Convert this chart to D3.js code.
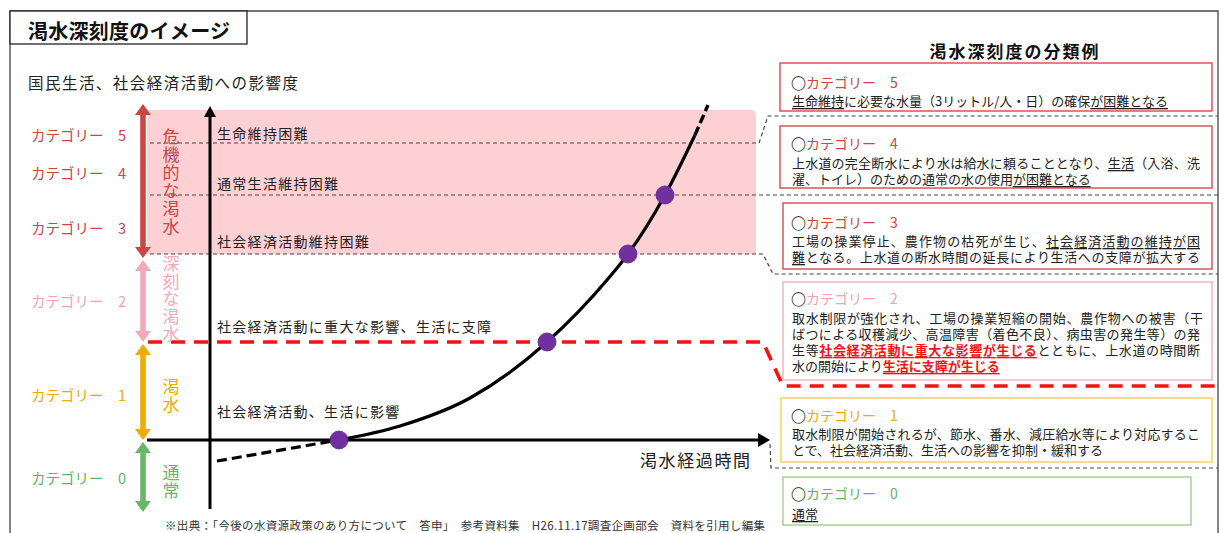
<!DOCTYPE html>
<html><head><meta charset="utf-8">
<script src="https://cdn.jsdelivr.net/npm/d3@7"></script>
<style>
body{margin:0;background:#fff}
text{font-family:"Noto Sans CJK JP","Noto Sans CJK SC",sans-serif}
</style>
</head><body>
<svg id="c" width="1223" height="533"></svg>
<script>
// ---------------- data ----------------
const chartTitle = "渇水深刻度のイメージ";
const yAxisTitle = "国民生活、社会経済活動への影響度";
const xAxisTitle = "渇水経過時間";
const panelTitle = "渇水深刻度の分類例";
const sourceNote = "※出典：「今後の水資源政策のあり方について　答申」　参考資料集　H26.11.17調査企画部会　資料を引用し編集";

const catIds = [5, 4, 3, 2, 1, 0];
const catLabelLevels = [306, 268, 213, 140, 46, -37];

const bandNames = ["危機的な渇水", "深刻な渇水", "渇水", "通常"];
const bandTop = [336, 180, 96, -2];
const bandBottom = [182, 98, 0, -72];
const bandTextCenter = [258, 141, 44, -42];

const thresholdLevels = [297, 245, 186];
const criticalLevel = 98;
const shadedTop = 330, shadedBottom = 186;

const impactLabels = ["生命維持困難", "通常生活維持困難", "社会経済活動維持困難", "社会経済活動に重大な影響、生活に支障", "社会経済活動、生活に影響"];
const impactLabelLevels = [307, 257, 199, 114, 29];

const leadPoints = [[7, -21], [129, 0]];
const mainPoints = [[129, 0], [190, 14], [260, 42], [337, 98], [397, 160], [418, 186], [455, 245], [485, 305]];
const tailPoints = [[485, 305], [498, 335]];
const markerPoints = [[129, 0], [337, 98], [418, 186], [455, 245]];

const boxCats = [5, 4, 3, 2, 1, 0];
const boxLines = [
  [[["生命維持", "u"], ["に必要な水量（3リットル/人・日）の確保", ""], ["が困難となる", "u"]]],
  [[["上水道の完全断水により水は給水に頼ることとなり、", ""], ["生活", "u"], ["（入浴、洗", ""]],
   [["濯、トイレ）のための通常の水の使用", ""], ["が困難となる", "u"]]],
  [[["工場の操業停止、農作物の枯死が生じ、", ""], ["社会経済活動の維持が困", "u"]],
   [["難", "u"], ["となる。上水道の断水時間の延長により生活への支障が拡大する", ""]]],
  [[["取水制限が強化され、工場の操業短縮の開始、農作物への被害（干", ""]],
   [["ばつによる収穫減少、高温障害（着色不良）、病虫害の発生等）の発", ""]],
   [["生等", ""], ["社会経済活動に重大な影響が生じる", "r"], ["とともに、上水道の時間断", ""]],
   [["水の開始により", ""], ["生活に支障が生じる", "r"]]],
  [[["取水制限が開始されるが、節水、番水、減圧給水等により対応するこ", ""]],
   [["とで、社会経済活動、生活への影響を抑制・緩和する", ""]]],
  [[["通常", "u"]]]
];

// ---------------- layout / style ----------------
const svg = d3.select("#c");
const x = d3.scaleLinear().domain([0, 560]).range([210, 770]);
const y = d3.scaleLinear().domain([0, 330]).range([440, 110]);

const catColor = {5: "#cf4545", 4: "#cf4545", 3: "#cf4545", 2: "#f2a3b3", 1: "#efaa00", 0: "#5fb45f"};
const bandColor = ["#cc4646", "#f3aab8", "#f0ab00", "#66b866"];
const boxStroke = {5: "#d9555a", 4: "#d9555a", 3: "#d9555a", 2: "#f6b3bb", 1: "#f7d35a", 0: "#a6d38f"};
const boxLayout = [
  {x: 780, y: 63, w: 432, h: 48, ty: 82, ly: [100], lw: [null]},
  {x: 780, y: 126, w: 432, h: 62, ty: 143, ly: [162, 178], lw: [408, null]},
  {x: 783, y: 203, w: 429, h: 66, ty: 222, ly: [240, 256], lw: [408, 408]},
  {x: 783, y: 282, w: 429, h: 98, ty: 298, ly: [317, 333, 349, 365], lw: [411, 408, 408, null]},
  {x: 781, y: 398, w: 431, h: 64, ty: 415, ly: [433, 449], lw: [408, null]},
  {x: 783, y: 477, w: 408, h: 48, ty: 493, ly: [513], lw: [null]}
];

// outer frame
svg.append("path").attr("d", "M10,533V11H1218V533").attr("fill", "none").attr("stroke", "#444").attr("stroke-width", 1.3);
svg.append("rect").attr("x", 10).attr("y", 11).attr("width", 237).attr("height", 33)
  .attr("fill", "#fff").attr("stroke", "#222").attr("stroke-width", 1.3);
svg.append("text").attr("x", 28).attr("y", 30).attr("dominant-baseline", "central")
  .attr("font-size", 20).attr("font-weight", "bold").attr("fill", "#111").attr("textLength", 202).text(chartTitle);
svg.append("text").attr("x", 28).attr("y", 82).attr("dominant-baseline", "central")
  .attr("font-size", 15.5).attr("fill", "#222").attr("textLength", 270).text(yAxisTitle);

// shaded band
svg.append("path").attr("fill", "#fdd0d4")
  .attr("d", () => {
    const l = 147, r = 756, t = y(shadedTop), b = y(shadedBottom), rr = 5;
    return `M${l},${t}H${r - rr}Q${r},${t} ${r},${t + rr}V${b}H${l}Z`;
  });

// gray threshold dashed lines with connectors
const connectors = [
  [[150, y(thresholdLevels[0])], [759, y(thresholdLevels[0])], [768, 116], [1218, 116]],
  [[150, y(thresholdLevels[1])], [1218, y(thresholdLevels[1])]],
  [[150, y(thresholdLevels[2])], [763, y(thresholdLevels[2])], [773, 274], [1218, 274]],
  [[770, 444], [771, 468], [1218, 468]]
];
const ln = d3.line();
svg.selectAll(".conn").data(connectors).join("path").attr("class", "conn")
  .attr("d", ln).attr("fill", "none").attr("stroke", "#444").attr("stroke-width", 1.2).attr("stroke-dasharray", "4,3");

// red critical dashed line
svg.append("path").attr("d", ln([[148, y(criticalLevel)], [763, y(criticalLevel)], [783, 386], [1218, 386]]))
  .attr("fill", "none").attr("stroke", "#f01414").attr("stroke-width", 3.6).attr("stroke-dasharray", "14,9");

// category band arrows
function dblArrow(cx, top, bot) {
  const hw = 8, hl = 11, sw = 2.8;
  return `M${cx},${top}L${cx + hw},${top + hl}H${cx + sw}V${bot - hl}H${cx + hw}L${cx},${bot}L${cx - hw},${bot - hl}H${cx - sw}V${top + hl}H${cx - hw}Z`;
}
bandNames.forEach((name, i) => {
  svg.append("path").attr("d", dblArrow(143, y(bandTop[i]), y(bandBottom[i]))).attr("fill", bandColor[i]);
  svg.append("text").attr("x", 171).attr("y", y(bandTextCenter[i]))
    .attr("writing-mode", "vertical-rl").attr("text-anchor", "middle")
    .attr("font-size", 17).attr("letter-spacing", i === 0 ? 1 : 0.5)
    .attr("fill", bandColor[i]).text(name);
});

// category labels at left
catIds.forEach((c, i) => {
  svg.append("text").attr("x", 31).attr("y", y(catLabelLevels[i])).attr("dominant-baseline", "central")
    .attr("font-size", 14.5).attr("fill", catColor[c]).text("カテゴリー　" + c);
});

// axes
svg.append("line").attr("x1", x(0)).attr("x2", x(0)).attr("y1", 509).attr("y2", 114).attr("stroke", "#000").attr("stroke-width", 3);
svg.append("path").attr("d", `M${x(0)},106L${x(0) + 6},117H${x(0) - 6}Z`).attr("fill", "#000");
svg.append("line").attr("x1", 147).attr("x2", 760).attr("y1", y(0)).attr("y2", y(0)).attr("stroke", "#000").attr("stroke-width", 3);
svg.append("path").attr("d", `M770,${y(0)}L758,${y(0) - 7}V${y(0) + 7}Z`).attr("fill", "#000");
svg.append("text").attr("x", 640).attr("y", 459).attr("dominant-baseline", "central")
  .attr("font-size", 17).attr("fill", "#222").attr("textLength", 110).text(xAxisTitle);

// impact labels
impactLabels.forEach((t, i) => {
  svg.append("text").attr("x", 217).attr("y", y(impactLabelLevels[i])).attr("dominant-baseline", "central")
    .attr("font-size", 14).attr("letter-spacing", 1.3).attr("fill", "#222").text(t);
});

// curve
const cl = d3.line().x(d => x(d[0])).y(d => y(d[1]));
svg.append("path").attr("d", cl(leadPoints)).attr("fill", "none").attr("stroke", "#000").attr("stroke-width", 3.2).attr("stroke-dasharray", "10,5");
svg.append("path").attr("d", d3.line().x(d => x(d[0])).y(d => y(d[1])).curve(d3.curveMonotoneX)(mainPoints))
  .attr("fill", "none").attr("stroke", "#000").attr("stroke-width", 3.2);
svg.append("path").attr("d", cl(tailPoints)).attr("fill", "none").attr("stroke", "#000").attr("stroke-width", 3.4).attr("stroke-dasharray", "9,4");

svg.selectAll(".dot").data(markerPoints).join("circle").attr("class", "dot")
  .attr("cx", d => x(d[0])).attr("cy", d => y(d[1])).attr("r", 9)
  .attr("fill", "#7030a0").attr("stroke", "#5a2585").attr("stroke-width", 0.8);

// right panel
svg.append("text").attr("x", 1014).attr("y", 50).attr("text-anchor", "middle").attr("dominant-baseline", "central")
  .attr("font-size", 17).attr("font-weight", "bold").attr("fill", "#111").attr("textLength", 169).text(panelTitle);

function richText(g, tx, ty, segs, size, width) {
  const t = g.append("text").attr("x", tx).attr("y", ty).attr("dominant-baseline", "central")
    .attr("font-size", size).attr("fill", "#222");
  segs.forEach(([s, st]) => {
    const ts = t.append("tspan").text(s);
    if (st === "u") ts.style("text-decoration", "underline");
    if (st === "r") ts.attr("fill", "#ff1010").attr("font-weight", "bold").style("text-decoration", "underline");
  });
  if (width) t.attr("textLength", width).attr("lengthAdjust", "spacing");
}

boxCats.forEach((c, i) => {
  const L = boxLayout[i];
  const g = svg.append("g");
  g.append("rect").attr("x", L.x).attr("y", L.y).attr("width", L.w).attr("height", L.h)
    .attr("fill", "#fff").attr("stroke", boxStroke[c]).attr("stroke-width", 1.5);
  const t = g.append("text").attr("x", 791).attr("y", L.ty).attr("dominant-baseline", "central").attr("font-size", 14);
  t.append("tspan").attr("fill", "#111").attr("font-size", 15).attr("font-weight", "bold").text("○");
  t.append("tspan").attr("fill", catColor[c]).text("カテゴリー　" + c);
  boxLines[i].forEach((segs, k) => richText(g, 792, L.ly[k], segs, 13, L.lw[k]));
});

svg.append("text").attr("x", 165).attr("y", 525).attr("dominant-baseline", "central")
  .attr("font-size", 11.5).attr("fill", "#333").attr("textLength", 600).text(sourceNote);
</script>
</body></html>
